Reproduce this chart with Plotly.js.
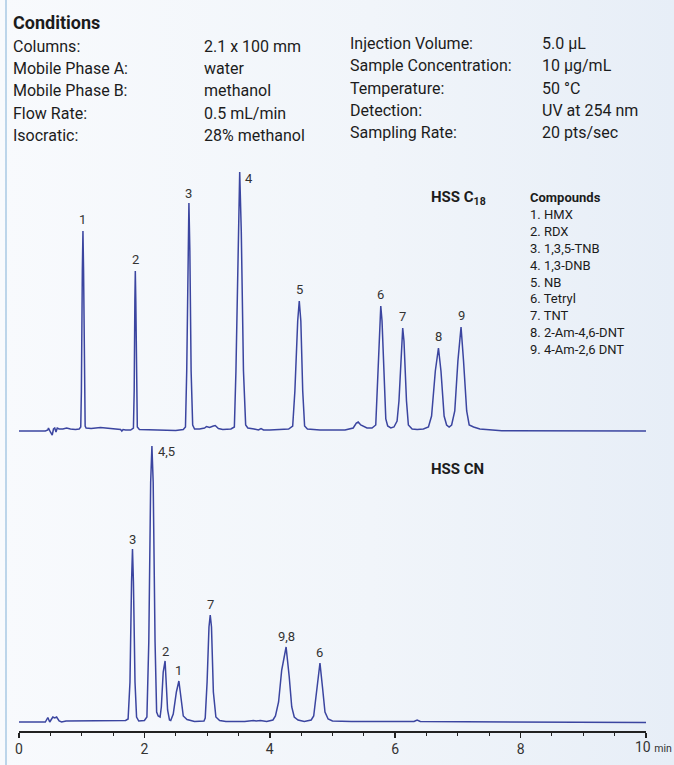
<!DOCTYPE html>
<html><head><meta charset="utf-8">
<script src="https://cdn.plot.ly/plotly-3.0.1.min.js"></script>
<style>
html,body{margin:0;padding:0;background:#f4f7fb;}
#chart{width:674px;height:765px;background:linear-gradient(to right,#f8fafd 0%,#f1f5fa 55%,#e7eef7 100%);}
</style></head><body><div id="chart"></div>
<script>
// ---------- Conditions text ----------
const leftLabels = ["Columns:", "Mobile Phase A:", "Mobile Phase B:", "Flow Rate:", "Isocratic:"];
const leftValues = ["2.1 x 100 mm", "water", "methanol", "0.5 mL/min", "28% methanol"];
const rightLabels = ["Injection Volume:", "Sample Concentration:", "Temperature:", "Detection:", "Sampling Rate:"];
const rightValues = ["5.0 µL", "10 µg/mL", "50 °C", "UV at 254 nm", "20 pts/sec"];

const compounds = ["1. HMX", "2. RDX", "3. 1,3,5-TNB", "4. 1,3-DNB", "5. NB", "6. Tetryl", "7. TNT", "8. 2-Am-4,6-DNT", "9. 4-Am-2,6 DNT"];

// ---------- HSS C18 chromatogram (time in min, signal in relative units) ----------
const topTime = [0.00,0.42,0.46,0.47,0.50,0.53,0.55,0.57,0.59,0.61,0.64,0.70,0.76,0.82,0.90,0.96,
  0.985,0.995,1.01,1.02,1.03,1.045,1.055,1.07,1.15,1.30,1.42,1.55,1.62,1.64,1.66,1.70,1.78,
  1.825,1.837,1.848,1.855,1.863,1.873,1.887,1.92,2.20,2.50,2.62,
  2.655,2.675,2.695,2.71,2.725,2.745,2.77,2.80,2.88,2.96,2.99,3.04,3.10,3.13,3.18,3.25,3.38,
  3.435,3.46,3.495,3.52,3.545,3.58,3.615,3.65,3.75,3.82,3.86,3.90,4.00,4.10,4.30,
  4.365,4.40,4.445,4.47,4.495,4.525,4.555,4.60,4.80,5.00,5.20,5.33,5.38,5.41,5.45,5.55,5.63,
  5.69,5.72,5.75,5.77,5.79,5.82,5.85,5.88,5.93,5.98,6.03,
  6.06,6.10,6.12,6.14,6.18,6.21,6.27,6.35,6.45,6.53,
  6.58,6.64,6.69,6.73,6.78,6.82,6.86,6.90,6.95,
  7.00,7.05,7.09,7.14,7.18,7.25,7.35,7.50,7.70,10.0];
const topSignal = [0,0,1,3,-1,-4,2,3,-1,3,2,2,3,2,1.5,2,
  4,40,160,200,160,40,5,3,2.5,3.5,3,2,1.5,0,1.5,1,1,
  3,40,130,160,130,40,4,1.5,1,0.5,1.5,
  4,60,180,228,180,60,6,2,2,3,4.5,3.5,5,5.5,2.5,1.5,2,
  4,60,200,259,200,60,6,3,2,1,2.5,1,1,1.5,2,
  5,40,110,130,110,40,5,2,1,1,1,3,8,9,6,3,3,
  6,50,110,125,110,50,12,5,3,4,10,
  30,90,103,90,30,6,2,1.5,2,4,
  15,60,83,60,15,6,4,6,20,
  70,104,70,20,6,4,2,1,0.3,0];

const topPeakTimes = [1.02, 1.855, 2.71, 3.52, 4.47, 5.77, 6.12, 6.69, 7.05];
const topPeakHeights = [200, 160, 228, 259, 130, 125, 103, 83, 104];
const topPeakLabels = ["1", "2", "3", "4", "5", "6", "7", "8", "9"];

// ---------- HSS CN chromatogram ----------
const cnTime = [0,0.42,0.46,0.49,0.52,0.54,0.57,0.60,0.64,0.68,0.75,1.00,1.40,1.70,
  1.74,1.77,1.795,1.81,1.825,1.85,1.875,1.91,2.00,
  2.04,2.07,2.10,2.12,2.14,2.17,2.195,2.22,2.25,
  2.27,2.30,2.33,2.345,2.37,2.40,2.42,
  2.46,2.51,2.55,2.58,2.62,2.68,2.80,2.95,
  2.97,3.00,3.03,3.05,3.07,3.10,3.14,3.20,3.30,3.60,3.74,3.78,3.85,3.95,4.05,
  4.09,4.14,4.19,4.26,4.31,4.35,4.39,4.45,4.55,4.66,
  4.70,4.74,4.80,4.84,4.88,4.93,5.00,5.30,6.00,6.30,6.35,6.40,10];
const cnSignal = [0,0,4.5,0,3,5,4,5,1,0,1,1,1,1.5,
  3,40,140,173,140,40,5,1,1.5,
  5,80,240,276,240,80,10,6,5,
  15,50,61,45,12,2,1.5,
  8,30,41,28,6,2.5,0.5,1,
  4,40,95,107,95,30,5,1.5,0.5,0.5,1.5,1,1.5,0.5,2,
  6,20,52,75,45,15,5,2,0.5,2,
  6,25,59,35,10,3,1,0.5,0.5,0.5,2,0.5,-0.5];

const cnPeakTimes = [1.81, 2.12, 2.33, 2.55, 3.05, 4.26, 4.80];
const cnPeakHeights = [173, 276, 61, 41, 107, 75, 59];
const cnPeakLabels = ["3", "4,5", "2", "1", "7", "9,8", "6"];

const xTickVals = [0, 2, 4, 6, 8];
const xTickText = ["0", "2", "4", "6", "8"];
const xEndVal = 10;
const xEndText = "10";
const xUnit = "min";

// ---------- styling ----------
const W = 674, H = 765;
const px = v => v / W;
const py = v => (H - v) / H;
const FONT = "Roboto, 'Noto Sans', sans-serif";
const LINE = "#3b45a0";
const TXT = "#1c1c1c";

const annotations = [];
annotations.push({xref:'paper', yref:'paper', x:px(11), y:py(22), xanchor:'left', yanchor:'middle',
  text:'<b>Conditions</b>', showarrow:false, font:{family:FONT, size:18, color:TXT}});
leftLabels.forEach((t,i)=>{
  const yy = 46.5 + i*22.2;
  annotations.push({xref:'paper', yref:'paper', x:px(11), y:py(yy), xanchor:'left', yanchor:'middle', text:t, showarrow:false, font:{family:FONT,size:16,color:TXT}});
  annotations.push({xref:'paper', yref:'paper', x:px(202), y:py(yy), xanchor:'left', yanchor:'middle', text:leftValues[i], showarrow:false, font:{family:FONT,size:16,color:TXT}});
});
rightLabels.forEach((t,i)=>{
  const yy = 43.5 + i*22.3;
  annotations.push({xref:'paper', yref:'paper', x:px(348), y:py(yy), xanchor:'left', yanchor:'middle', text:t, showarrow:false, font:{family:FONT,size:16,color:TXT}});
  annotations.push({xref:'paper', yref:'paper', x:px(540), y:py(yy), xanchor:'left', yanchor:'middle', text:rightValues[i], showarrow:false, font:{family:FONT,size:16,color:TXT}});
});

annotations.push({xref:'paper', yref:'paper', x:px(429), y:py(198), xanchor:'left', yanchor:'middle',
  text:'<b>HSS C<sub>18</sub></b>', showarrow:false, font:{family:FONT,size:15,color:TXT}});
annotations.push({xref:'paper', yref:'paper', x:px(429), y:py(469), xanchor:'left', yanchor:'middle',
  text:'<b>HSS CN</b>', showarrow:false, font:{family:FONT,size:15,color:TXT}});
annotations.push({xref:'paper', yref:'paper', x:px(528), y:py(274), xanchor:'left', yanchor:'middle', align:'left',
  text:'<b>Compounds</b><br>' + compounds.join('<br>'), showarrow:false, font:{family:FONT,size:13,color:TXT}});

const topNudge = {"4":[9,-6], "3":[0,10]};
topPeakTimes.forEach((t,i)=>{
  const n = topNudge[topPeakLabels[i]] || [0,12];
  annotations.push({xref:'x', yref:'y', x:t, y:topPeakHeights[i], text:topPeakLabels[i], showarrow:false,
    xanchor:'center', yanchor:'middle', xshift:n[0], yshift:n[1], font:{family:FONT,size:13,color:'#333'}});
});
const cnNudge = {"4,5":[15,-6], "3":[0,10], "2":[0,10]};
cnPeakTimes.forEach((t,i)=>{
  const n = cnNudge[cnPeakLabels[i]] || [0,11];
  annotations.push({xref:'x', yref:'y2', x:t, y:cnPeakHeights[i], text:cnPeakLabels[i], showarrow:false,
    xanchor:'center', yanchor:'middle', xshift:n[0], yshift:n[1], font:{family:FONT,size:13,color:'#333'}});
});
// last tick label with unit
annotations.push({xref:'x', yref:'paper', x:xEndVal, y:py(747), xanchor:'left', yanchor:'middle', xshift:-12,
  text: xEndText + ' <span style="font-size:10.5px">' + xUnit + '</span>', showarrow:false, borderpad:0,
  font:{family:FONT,size:14,color:'#333'}});

const traces = [
  {x: topTime, y: topSignal, xaxis:'x', yaxis:'y', type:'scatter', mode:'lines',
   line:{color:LINE, width:1.5}, hoverinfo:'skip'},
  {x: cnTime, y: cnSignal, xaxis:'x', yaxis:'y2', type:'scatter', mode:'lines',
   line:{color:LINE, width:1.5}, hoverinfo:'skip'}
];

const layout = {
  width: W, height: H,
  margin:{l:0, r:0, t:0, b:0},
  paper_bgcolor:'rgba(0,0,0,0)', plot_bgcolor:'rgba(0,0,0,0)',
  showlegend:false,
  font:{family:FONT, color:TXT},
  xaxis:{domain:[px(19), px(646)], range:[0,10], anchor:'y2', showgrid:false, zeroline:false,
    showline:true, linecolor:'#222', linewidth:1.5, ticks:'outside', ticklen:5, tickwidth:1.5, tickcolor:'#222',
    tickvals:xTickVals.concat([xEndVal]), ticktext:xTickText.concat([' ']), tickfont:{family:FONT, size:14, color:'#333'},
    minor:{ticks:'outside', dtick:0.5, ticklen:3, tickwidth:1, tickcolor:'#222', showgrid:false}},
  yaxis:{domain:[py(440), py(165)], range:[-9, 266], anchor:'x', visible:false, fixedrange:true},
  yaxis2:{domain:[py(731), py(440)], range:[-9, 282], anchor:'x', visible:false, fixedrange:true},
  shapes:[{type:'line', xref:'paper', yref:'paper', x0:px(6), x1:px(6), y0:0, y1:1,
    line:{color:'#bcd5ea', width:2}}],
  annotations: annotations
};

Plotly.newPlot('chart', traces, layout, {staticPlot:true, displayModeBar:false});
</script></body></html>
